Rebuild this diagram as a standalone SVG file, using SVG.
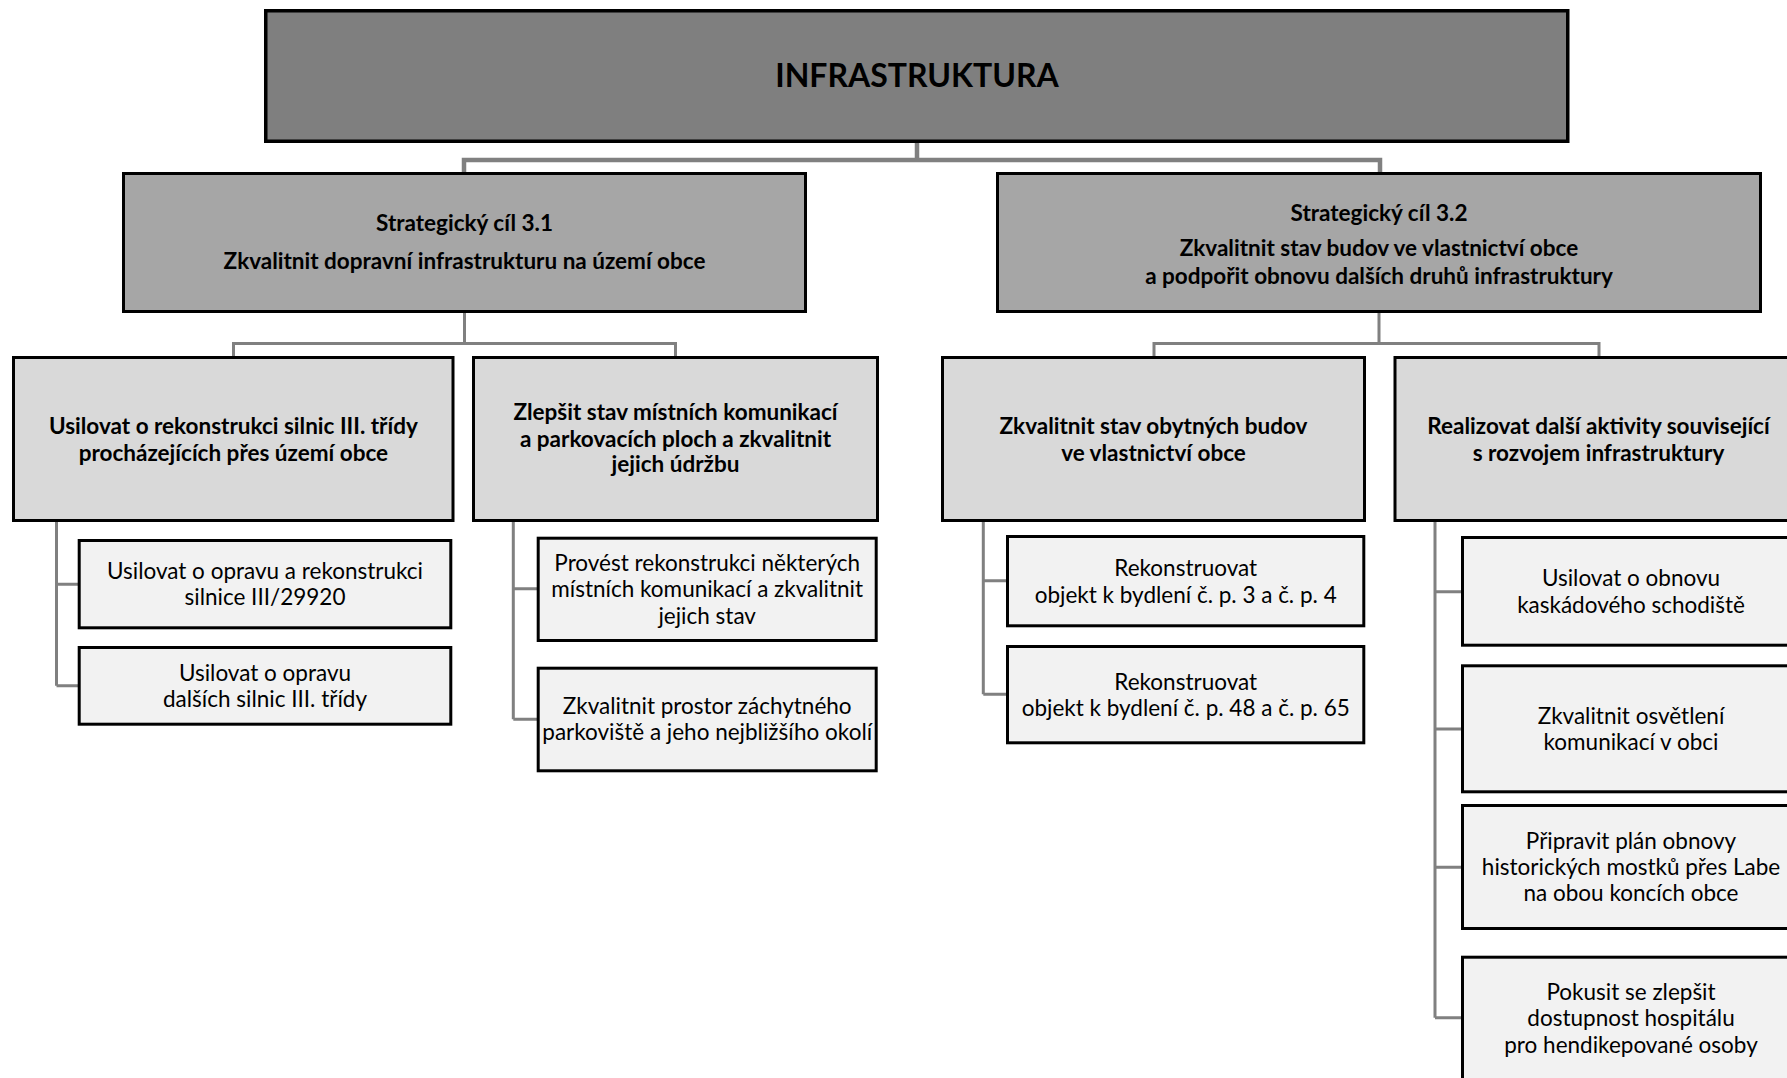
<svg xmlns="http://www.w3.org/2000/svg" width="1787" height="1078" viewBox="0 0 1787 1078">
<style>
.box{stroke:#000;stroke-width:3}
.top{fill:#7f7f7f;stroke:#000;stroke-width:3.5}
.l2{fill:#a6a6a6}
.l3{fill:#d9d9d9}
.l4{fill:#f2f2f2}
text{font-family:Lato,"Open Sans","Liberation Sans",sans-serif;fill:#000;text-anchor:middle}
.t{font-size:32px;font-weight:bold}
.b{font-size:22.5px;font-weight:bold}
.r{font-size:22.5px}
.c{fill:none;stroke:#808080;stroke-width:3}
.c1{fill:none;stroke:#808080;stroke-width:4.5}
</style>
<rect width="1787" height="1078" fill="#fff"/>
<g id="connectors">
<path class="c1" d="M917,142 V160 M464,172 V160 H1380 V172"/>
<path class="c" d="M464.5,313 V343.5 M233.5,356 V343.5 H675.5 V356"/>
<path class="c" d="M1379,313 V343.5 M1154,356 V343.5 H1599 V356"/>
<path class="c" d="M56.5,521 V685.7 M56.5,584.3 H78 M56.5,685.7 H78"/>
<path class="c" d="M513.3,521 V719.3 M513.3,588.7 H537 M513.3,719.3 H537"/>
<path class="c" d="M983.3,521 V694.3 M983.3,580.7 H1006 M983.3,694.3 H1006"/>
<path class="c" d="M1435,521 V1017.7 M1435,591.7 H1461 M1435,729 H1461 M1435,867.3 H1461 M1435,1017.7 H1461"/>
</g>
<g id="infrastruktura">
<rect class="top" x="265.75" y="10.75" width="1302" height="130.5"/>
<text class="t" x="917" y="87">INFRASTRUKTURA</text>
</g>
<g id="cil31">
<rect class="box l2" x="123.5" y="173.5" width="682" height="138"/>
<text class="b" x="464.5" y="231">Strategický cíl 3.1</text>
<text class="b" x="464.5" y="268.7">Zkvalitnit dopravní infrastrukturu na území obce</text>
</g>
<g id="cil32">
<rect class="box l2" x="997.5" y="173.5" width="763" height="138"/>
<text class="b" x="1379" y="221">Strategický cíl 3.2</text>
<text class="b" x="1379" y="256">Zkvalitnit stav budov ve vlastnictví obce</text>
<text class="b" x="1379" y="284">a podpořit obnovu dalších druhů infrastruktury</text>
</g>
<g id="h1">
<rect class="box l3" x="13.5" y="357.5" width="439.5" height="163"/>
<text class="b" x="233.4" y="434">Usilovat o rekonstrukci silnic III. třídy</text>
<text class="b" x="233.4" y="460.7">procházejících přes území obce</text>
</g>
<g id="h2">
<rect class="box l3" x="473.5" y="357.5" width="404" height="163"/>
<text class="b" x="675.5" y="419.7">Zlepšit stav místních komunikací</text>
<text class="b" x="675.5" y="447">a parkovacích ploch a zkvalitnit</text>
<text class="b" x="675.5" y="472.3">jejich údržbu</text>
</g>
<g id="h3">
<rect class="box l3" x="942.5" y="357.5" width="422" height="163"/>
<text class="b" x="1153.5" y="434">Zkvalitnit stav obytných budov</text>
<text class="b" x="1153.5" y="460.7">ve vlastnictví obce</text>
</g>
<g id="h4">
<rect class="box l3" x="1395" y="357.5" width="410" height="163"/>
<text class="b" x="1598.5" y="434">Realizovat další aktivity související</text>
<text class="b" x="1598.5" y="460.7">s rozvojem infrastruktury</text>
</g>
<g id="l1">
<rect class="box l4" x="79.2" y="540.5" width="371.6" height="87.3"/>
<text class="r" x="265" y="579">Usilovat o opravu a rekonstrukci</text>
<text class="r" x="265" y="604.7">silnice III/29920</text>
</g>
<g id="l2">
<rect class="box l4" x="79.2" y="647.5" width="371.6" height="76.7"/>
<text class="r" x="265" y="681.3">Usilovat o opravu</text>
<text class="r" x="265" y="707">dalších silnic III. třídy</text>
</g>
<g id="l3">
<rect class="box l4" x="538.2" y="538.2" width="338" height="102.3"/>
<text class="r" x="707.2" y="570.7">Provést rekonstrukci některých</text>
<text class="r" x="707.2" y="597.3">místních komunikací a zkvalitnit</text>
<text class="r" x="707.2" y="624">jejich stav</text>
</g>
<g id="l4">
<rect class="box l4" x="538.2" y="668.2" width="338" height="102.6"/>
<text class="r" x="707.2" y="713.7">Zkvalitnit prostor záchytného</text>
<text class="r" x="707.2" y="740.3">parkoviště a jeho nejbližšího okolí</text>
</g>
<g id="l5">
<rect class="box l4" x="1007.5" y="536.5" width="356.3" height="89.3"/>
<text class="r" x="1185.7" y="576.3">Rekonstruovat</text>
<text class="r" x="1185.7" y="603">objekt k bydlení č. p. 3 a č. p. 4</text>
</g>
<g id="l6">
<rect class="box l4" x="1007.5" y="646.5" width="356.3" height="96.3"/>
<text class="r" x="1185.7" y="689.7">Rekonstruovat</text>
<text class="r" x="1185.7" y="715.7">objekt k bydlení č. p. 48 a č. p. 65</text>
</g>
<g id="l7">
<rect class="box l4" x="1462.5" y="537.5" width="340" height="107.7"/>
<text class="r" x="1631" y="586.3">Usilovat o obnovu</text>
<text class="r" x="1631" y="613">kaskádového schodiště</text>
</g>
<g id="l8">
<rect class="box l4" x="1462.5" y="665.8" width="340" height="126"/>
<text class="r" x="1631" y="724">Zkvalitnit osvětlení</text>
<text class="r" x="1631" y="750.3">komunikací v obci</text>
</g>
<g id="l9">
<rect class="box l4" x="1462.5" y="805.5" width="340" height="123"/>
<text class="r" x="1631" y="849">Připravit plán obnovy</text>
<text class="r" x="1631" y="875.3">historických mostků přes Labe</text>
<text class="r" x="1631" y="901.3">na obou koncích obce</text>
</g>
<g id="l10">
<rect class="box l4" x="1462.5" y="957.2" width="340" height="125"/>
<text class="r" x="1631" y="1000">Pokusit se zlepšit</text>
<text class="r" x="1631" y="1026.3">dostupnost hospitálu</text>
<text class="r" x="1631" y="1053">pro hendikepované osoby</text>
</g>
</svg>
